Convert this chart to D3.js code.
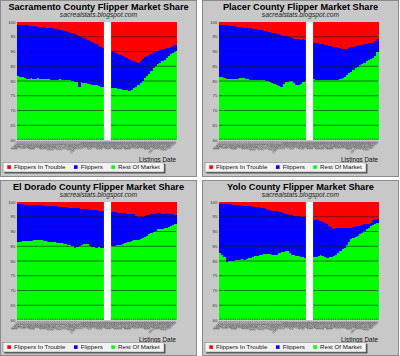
<!DOCTYPE html>
<html><head><meta charset="utf-8">
<script src="https://cdn.jsdelivr.net/npm/d3@7"></script>
<style>
html,body{margin:0;padding:0;background:#fff;}
svg{display:block;font-family:"Liberation Sans",Arial,sans-serif;}
</style></head>
<body><svg id="c" width="400" height="356"></svg>
<script>
// ---------- data ----------
const titles = ["Sacramento County Flipper Market Share","Placer County Flipper Market Share",
                "El Dorado County Flipper Market Share","Yolo County Flipper Market Share"];
const subtitle = "sacrealstats.blogspot.com";
const seriesNames = ["Flippers In Trouble","Flippers","Rest Of Market"];
const yTicks = [60,65,70,75,80,85,90,95,100];
const xTitle = "Listings Date";
const dates = ["6/16/07","6/23/07","6/30/07","7/7/07","7/14/07","7/21/07","7/28/07","8/4/07","8/11/07","8/18/07",
"8/25/07","9/1/07","9/8/07","9/15/07","9/22/07","9/29/07","10/6/07","10/13/07","10/20/07","10/27/07",
"11/3/07","11/10/07","11/17/07","11/24/07","12/1/07","12/8/07","12/15/07","12/22/07","12/29/07","01/05/2008",
"1/12/08","1/19/08","1/26/08","2/2/08","2/9/08","2/16/08","2/23/08","3/1/08","3/8/08","3/15/08",
"3/22/08","3/29/08","4/5/08",
"4/12/08","4/19/08","4/26/08","5/3/08","5/10/08","5/17/08","5/24/08","5/31/08","6/7/08","6/14/08",
"6/21/08","6/28/08","7/5/08","7/12/08","7/19/08","7/26/08","8/2/08","8/9/08","8/16/08","8/23/08",
"8/30/08","9/6/08","09/13/2008","9/20/08","9/27/08","10/4/08","10/11/08","10/18/08","10/25/08","11/1/08"];

// Rest Of Market share (%), null = no data
const sacRest = [81.7,81.5,81.3,81.0,80.8,80.8,80.9,80.7,80.8,80.9, 80.8,80.7,80.7,80.6,80.6,80.5,80.5,80.3,80.4,80.6,
 80.3,80.5,80.5,80.4,80.2,80.0,79.8,79.6,77.9,79.5, 79.4,79.3,79.1,79.0,78.8,78.7,78.5,78.3,78.1,77.9,
 null,null,null,
 77.7,77.6,77.5,77.4,77.3,77.1,77.0,76.8,76.6,76.9, 77.5,77.9,78.6,79.3,80.1,80.9,81.6,82.5,83.4,84.4,
 85.0,85.6,86.2,86.7,87.2,87.8,88.4,89.0,89.6,90.3];
// Flippers In Trouble share (%)
const sacTrouble = [0.9,1.0,1.0,1.1,1.1,1.2,1.3,1.4,1.5,1.6, 1.6,1.7,1.8,1.9,2.0,2.1,2.2,2.4,2.5,2.7,
 2.8,3.0,3.1,3.3,3.6,3.8,4.1,4.4,4.7,5.0, 5.3,5.7,6.0,6.4,6.8,7.2,7.6,8.0,8.4,8.9,
 null,null,null,
 10.0,10.3,10.6,10.9,11.2,11.5,11.8,12.2,12.5,12.8, 13.1,13.4,13.8,13.2,12.5,12.0,11.5,11.1,10.7,10.3,
 10.0,9.7,9.4,9.2,9.0,8.9,8.7,8.4,8.1,7.7];

const plaRest = [81.3,81.2,80.9,80.6,80.6,80.7,80.6,80.7,80.8,80.9, 81.0,80.9,80.8,80.7,80.5,80.4,80.4,80.3,80.4,80.3,
 80.2,80.1,79.9,79.6,79.3,79.0,78.6,78.3,78.1,78.9, 79.5,79.8,80.0,80.0,79.2,78.6,78.8,79.1,79.5,79.9,
 null,null,null,
 80.7,80.5,80.4,80.3,80.4,80.5,80.4,80.3,80.2,80.3, 80.4,80.5,80.6,81.0,81.5,82.1,82.7,83.2,83.8,84.4,
 84.9,85.3,85.8,86.2,86.7,87.1,87.5,87.9,88.5,90.0];
const plaTrouble = [1.0,1.0,1.1,1.1,1.2,1.3,1.4,1.5,1.6,1.7, 1.8,1.9,2.0,2.1,2.2,2.3,2.4,2.5,2.6,2.7,
 2.9,3.1,3.3,3.5,3.7,3.8,4.0,4.2,4.4,4.6, 4.8,5.0,5.2,5.4,5.6,5.8,5.9,6.0,5.8,6.0,
 null,null,null,
 7.0,7.1,7.2,7.4,7.6,7.7,7.9,8.0,8.2,8.4, 8.5,8.7,8.9,9.1,9.3,9.0,8.8,8.6,8.4,8.2,
 8.1,7.9,7.7,7.5,7.3,7.2,7.2,7.1,6.5,5.9];

const eldRest = [86.5,86.6,86.7,86.7,86.8,86.7,86.8,87.0,87.1,87.2, 87.2,87.1,86.9,86.7,86.6,86.5,86.4,86.3,86.2,86.1,
 86.0,85.8,85.6,85.5,85.4,85.2,84.3,84.8,85.2,85.3, 85.6,85.8,85.6,85.1,84.8,84.7,84.5,84.6,84.4,84.3,
 null,null,null,
 85.1,85.2,85.3,85.4,85.5,85.7,86.0,86.3,86.6,86.8, 87.2,87.1,87.2,87.3,87.7,88.1,88.5,89.0,89.5,89.9,
 90.3,90.7,90.9,91.0,91.2,91.3,91.5,91.8,92.3,92.5];
const eldTrouble = [0.8,0.8,0.8,0.9,0.9,0.9,0.9,1.0,1.0,1.0, 1.1,1.1,1.2,1.2,1.3,1.3,1.4,1.5,1.5,1.6,
 1.7,1.7,1.8,1.9,1.9,2.0,2.1,2.1,2.2,2.3, 2.4,2.4,2.5,2.6,2.7,2.7,2.8,3.0,3.1,3.2,
 null,null,null,
 3.4,3.5,3.5,3.6,3.7,3.7,3.8,3.9,3.9,4.0, 4.2,4.6,5.0,5.1,5.1,4.8,4.5,4.3,4.1,4.0,
 3.9,3.8,3.7,3.9,4.0,3.6,4.0,4.1,4.2,4.3];

const yolRest = [82.6,82.2,81.2,79.8,79.9,80.1,80.0,80.2,80.4,80.5, 80.6,80.5,80.8,80.9,81.0,81.3,81.6,81.8,82.0,82.2,
 82.3,82.5,82.4,82.3,82.2,82.1,82.0,82.6,83.1,83.2, 83.3,83.4,82.6,82.0,81.9,81.8,81.6,81.4,81.2,81.1,
 null,null,null,
 81.3,81.5,81.8,82.0,81.7,81.4,81.1,81.2,81.3,81.6, 82.2,82.8,83.3,83.9,84.5,85.4,86.4,87.3,87.7,88.0,
 88.4,89.0,89.5,90.1,90.7,91.2,91.8,92.2,92.6,92.9];
const yolTrouble = [0.7,0.7,0.7,0.8,0.8,0.8,0.9,1.0,1.1,1.1, 1.2,1.3,1.4,1.5,1.5,1.6,1.7,1.7,1.8,2.0,
 2.2,2.4,2.6,2.7,2.9,3.0,3.1,3.3,3.5,3.7, 3.9,4.1,4.3,4.4,4.6,4.7,4.9,5.0,5.1,5.2,
 null,null,null,
 6.0,6.1,6.2,6.3,6.7,7.0,7.5,8.0,8.5,9.0, 8.9,8.8,8.8,8.9,8.8,8.9,8.8,8.7,8.5,8.3,
 8.2,8.0,7.8,7.6,7.4,7.3,7.1,6.0,5.7,5.9];

const restSeries = [sacRest, plaRest, eldRest, yolRest];
const troubleSeries = [sacTrouble, plaTrouble, eldTrouble, yolTrouble];

// ---------- layout / style ----------
const colors = {trouble:"#ff0000", flippers:"#0000ff", rest:"#00ff00"};
const panels = [{x:0,y:0,h:177},{x:202,y:0,h:177},{x:0,y:180,h:176},{x:202,y:180,h:176}];
const PW = 197, PL = 17, PR = 176, PT = 22, PB = 140;

const svg = d3.select("#c");
svg.append("rect").attr("width",400).attr("height",356).attr("fill","#fff");

panels.forEach((p, k) => {
  const g = svg.append("g").attr("transform", `translate(${p.x},${p.y})`);
  g.append("rect").attr("x",0.5).attr("y",0.5).attr("width",PW-1).attr("height",p.h-1)
    .attr("fill","#c8c8c8").attr("stroke","#8a8a8a").attr("stroke-width",1);

  g.append("text").attr("x",PW/2).attr("y",9.6).attr("text-anchor","middle")
    .attr("font-size","9.2px").attr("font-weight","bold").attr("fill","#000").text(titles[k]);
  g.append("text").attr("x",PW/2).attr("y",17).attr("text-anchor","middle")
    .attr("font-size","6.7px").attr("font-style","italic").attr("fill","#222").text(subtitle);

  const rest = restSeries[k], trouble = troubleSeries[k];
  const table = dates.map((d, i) => ({
    i, date: d, valid: rest[i] != null,
    rest: rest[i] == null ? 0 : rest[i],
    trouble: trouble[i] == null ? 0 : trouble[i],
    flippers: rest[i] == null ? 0 : 100 - rest[i] - trouble[i]
  }));

  const x = d3.scaleBand().domain(d3.range(dates.length)).range([PL, PR]).padding(0);
  const y = d3.scaleLinear().domain([60, 100]).range([PB, PT]).clamp(true);

  g.append("rect").attr("x",PL).attr("y",PT).attr("width",PR-PL).attr("height",PB-PT).attr("fill","#fff");

  const stack = d3.stack().keys(["rest","flippers","trouble"])(table);
  stack.forEach(layer => {
    g.append("g").attr("fill", colors[layer.key]).attr("shape-rendering","crispEdges")
      .selectAll("rect").data(layer.filter(d => d.data.valid)).join("rect")
      .attr("x", d => x(d.data.i))
      .attr("width", x.bandwidth() + 0.6)
      .attr("y", d => y(d[1]))
      .attr("height", d => Math.max(0, y(d[0]) - y(d[1])));
  });

  // gridlines
  g.append("g").selectAll("line").data(yTicks.filter(v => v > 60 && v < 100)).join("line")
    .attr("x1",PL).attr("x2",PR).attr("y1",d=>y(d)).attr("y2",d=>y(d))
    .attr("stroke","#1a1a1a").attr("stroke-width",0.7).attr("stroke-opacity",0.85);

  // gap (no data) drawn white over the grid
  g.append("g").selectAll("rect").data(table.filter(d => !d.valid)).join("rect")
    .attr("x", d => x(d.i) - 0.2).attr("width", x.bandwidth() + 0.6)
    .attr("y", PT).attr("height", PB - PT).attr("fill", "#fff");

  // y axis labels
  g.append("g").selectAll("text").data(yTicks).join("text")
    .attr("x",15.3).attr("y",d=>y(d)).attr("dy","0.35em").attr("text-anchor","end")
    .attr("font-size","4.3px").attr("fill","#333").text(d=>d);

  // x ticks
  g.append("g").selectAll("line").data(table.filter(d=>d.valid)).join("line")
    .attr("x1",d=>x(d.i)+x.bandwidth()/2).attr("x2",d=>x(d.i)+x.bandwidth()/2)
    .attr("y1",PB).attr("y2",PB-1.6).attr("stroke","#2a4a2a").attr("stroke-width",0.6);
  g.append("g").selectAll("text").data(table).join("text")
    .attr("transform", d => `translate(${x(d.i)+x.bandwidth()/2+0.8},${PB+1.8}) rotate(-45)`)
    .attr("text-anchor","end").attr("dy","0.3em")
    .attr("font-size","3.2px").attr("fill","#333").text(d=>d.date);

  g.append("text").attr("x",176).attr("y",161.5).attr("text-anchor","end")
    .attr("font-size","6.4px").attr("fill","#111").text(xTitle);

  // legend
  const lg = g.append("g");
  lg.append("rect").attr("x",4.5).attr("y",164).attr("width",161).attr("height",9.5).attr("fill","#555");
  lg.append("rect").attr("x",3).attr("y",162.5).attr("width",161).attr("height",9.5)
    .attr("fill","#f2f2f2").attr("stroke","#777").attr("stroke-width",0.5);
  const keys = ["trouble","flippers","rest"];
  const itemX = [7.3, 74, 111.3];
  seriesNames.forEach((name, j) => {
    lg.append("rect").attr("x",itemX[j]).attr("y",165.3).attr("width",3.6).attr("height",3.6)
      .attr("fill",colors[keys[j]]);
    lg.append("text").attr("x",itemX[j]+6.8).attr("y",169.4).attr("font-size","6.2px")
      .attr("fill","#111").text(name);
  });
});
</script></body></html>
